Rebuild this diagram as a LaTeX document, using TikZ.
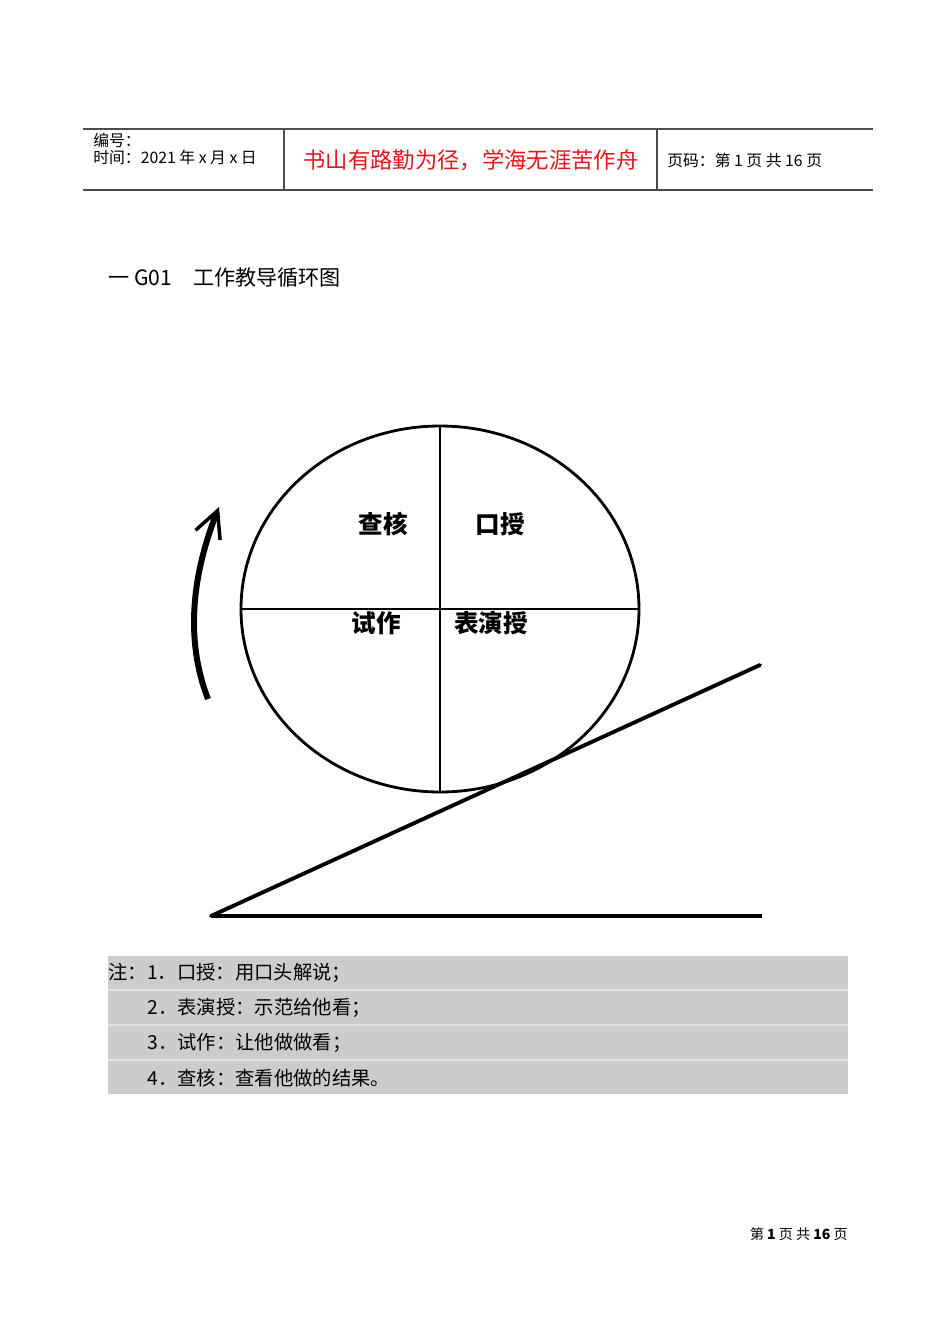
\documentclass[tikz,border=0pt]{standalone}
\usepackage{fontspec}
\setmainfont{Noto Sans CJK SC}
\usepackage{xcolor}
\usepackage{tikz}
\usetikzlibrary{positioning,arrows.meta}

\definecolor{notegray}{HTML}{CCCCCC}
\definecolor{noteline}{HTML}{E2E2E2}
\definecolor{mottored}{HTML}{E8141B}

\tikzset{
  hdr/.style={inner sep=0pt, anchor=west, font=\fontsize{9}{10}\selectfont},
  part/.style={inner sep=0pt, font=\fontsize{14}{15}\selectfont\bfseries},
  note/.style={inner sep=0pt, anchor=west, font=\fontsize{11}{12}\selectfont},
  rim/.style={line width=1.6pt},
  slope/.style={line width=2.2pt}
}

\begin{document}
\begin{tikzpicture}[x=0.02cm, y=-0.02cm]
\useasboundingbox (0,0) rectangle (950,1344);

% header
\draw [line width=0.6pt, black!70] (83,129) -- (873,129);
\draw [line width=0.6pt, black!70] (83,190) -- (873,190);
\draw [line width=0.6pt, black!70] (284,129) -- (284,190);
\draw [line width=0.6pt, black!70] (657,129) -- (657,190);
\node[hdr] (num) at (93,140) {编号：};
\node[hdr] (date) at (93,157) {时间：2021 年 x 月 x 日};
\node[inner sep=0pt, text=mottored, font=\fontsize{12.7}{13}\selectfont] (motto) at (471,160) {书山有路勤为径，学海无涯苦作舟};
\node[hdr] (page) at (667,160) {页码：第 1 页 共 16 页};

% title
\node[inner sep=0pt, anchor=west, font=\fontsize{12}{13}\selectfont] (title) at (108,278) {一 G01\quad 工作教导循环图};

% wheel
\coordinate (c) at (440,609);
\coordinate (top) at (440,427);
\coordinate (bot) at (440,792);
\coordinate (lft) at (241,609);
\coordinate (rgt) at (639,609);
\draw [rim] (c) ellipse [x radius=199, y radius=183];
\draw [rim] (top) -- (bot);
\draw [rim] (lft) -- (rgt);
\node[part] (check) at (383,524) {查核};
\node[part] (oral) at (500,524) {口授};
\node[part] (try) at (376,623) {试作};
\node[part] (show) at (491,623) {表演授};

% slope
\coordinate (foot) at (211,916);
\coordinate (peak) at (760,665);
\coordinate (end) at (762,916);
\draw [slope, line cap=round] (foot) -- (peak);
\draw [slope] (foot) -- (end);

% turning arrow
\coordinate (a0) at (208,699);
\coordinate (a1) at (219,507);
\draw [line width=3.4pt, -{Straight Barb[length=15pt, width=15pt, line width=2pt]}]
  (a0) .. controls (185,640) and (192,575) .. (a1);

% notes
\fill [notegray] (108,956) rectangle (848,1094);
\foreach \y in {990,1025,1060}
  \draw [noteline, line width=0.8pt] (108,\y) -- (848,\y);
\node[note] (n1) at (108,973) {注：1．口授：用口头解说；};
\node[note] (n2) at (147,1008) {2．表演授：示范给他看；};
\node[note] (n3) at (147,1043) {3．试作：让他做做看；};
\node[note] (n4) at (147,1078) {4．查核：查看他做的结果。};

% footer
\node[inner sep=0pt, anchor=east, font=\fontsize{8}{9}\selectfont] (foot) at (848,1234) {第 \textbf{1} 页 共 \textbf{16} 页};
\end{tikzpicture}
\end{document}
